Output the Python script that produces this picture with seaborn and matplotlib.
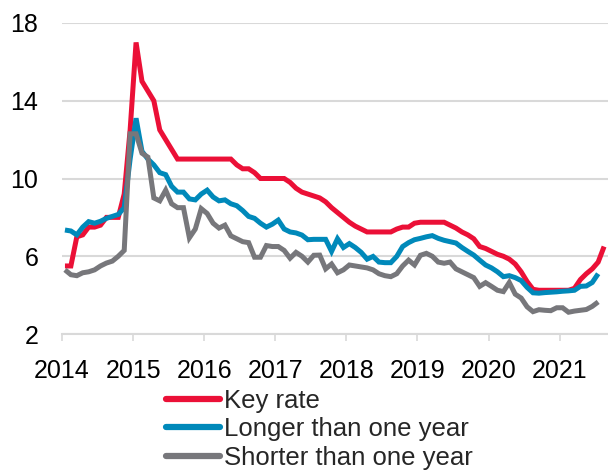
import numpy as np
import pandas as pd
import matplotlib
matplotlib.use("Agg")
import matplotlib.pyplot as plt
import seaborn as sns

# Monthly values, Jan 2014 onwards
key_rate = [5.5, 5.5, 7.0, 7.1, 7.5, 7.5, 7.6, 8.0, 8.0, 8.0, 9.2, 12.5,
            17.0, 15.0, 14.5, 14.0, 12.5, 12.0, 11.5, 11.0, 11.0, 11.0, 11.0, 11.0,
            11.0, 11.0, 11.0, 11.0, 11.0, 10.7, 10.5, 10.5, 10.3, 10.0, 10.0, 10.0,
            10.0, 10.0, 9.8, 9.5, 9.3, 9.2, 9.1, 9.0, 8.8, 8.5, 8.25, 8.0,
            7.75, 7.55, 7.4, 7.25, 7.25, 7.25, 7.25, 7.25, 7.4, 7.5, 7.5, 7.7,
            7.75, 7.75, 7.75, 7.75, 7.75, 7.6, 7.45, 7.25, 7.1, 6.9, 6.5, 6.4,
            6.25, 6.1, 6.0, 5.85, 5.6, 5.2, 4.7, 4.3, 4.25, 4.25, 4.25, 4.25,
            4.25, 4.25, 4.35, 4.8, 5.1, 5.35, 5.7, 6.5]
longer = [7.35, 7.3, 7.1, 7.5, 7.78, 7.7, 7.8, 7.95, 8.05, 8.15, 8.5, 11.0,
          13.1, 11.4, 11.0, 10.7, 10.3, 10.2, 9.6, 9.3, 9.3, 8.95, 8.9, 9.2,
          9.4, 9.05, 8.85, 8.9, 8.7, 8.6, 8.35, 8.05, 7.95, 7.7, 7.5, 7.65,
          7.86, 7.4, 7.25, 7.2, 7.09, 6.85, 6.87, 6.87, 6.87, 6.25, 6.9, 6.45,
          6.65, 6.45, 6.2, 5.85, 5.99, 5.7, 5.67, 5.67, 5.99, 6.5, 6.7, 6.85,
          6.92, 7.0, 7.06, 6.92, 6.82, 6.75, 6.68, 6.45, 6.25, 6.06, 5.8, 5.55,
          5.4, 5.2, 4.95, 5.0, 4.9, 4.75, 4.4, 4.12, 4.1, 4.13, 4.15, 4.17,
          4.2, 4.22, 4.25, 4.45, 4.47, 4.65, 5.1]
shorter = [5.3, 5.05, 5.0, 5.15, 5.2, 5.3, 5.5, 5.65, 5.75, 6.0, 6.3, 12.3,
           12.3, 11.3, 11.1, 9.0, 8.85, 9.4, 8.7, 8.5, 8.5, 6.95, 7.4, 8.45,
           8.2, 7.7, 7.45, 7.6, 7.05, 6.9, 6.75, 6.7, 5.95, 5.95, 6.55, 6.5,
           6.5, 6.3, 5.9, 6.2, 6.0, 5.7, 6.05, 6.06, 5.35, 5.6, 5.15, 5.3,
           5.55, 5.5, 5.45, 5.4, 5.3, 5.1, 5.0, 4.95, 5.1, 5.5, 5.8, 5.55,
           6.05, 6.15, 6.0, 5.7, 5.64, 5.7, 5.35, 5.2, 5.05, 4.9, 4.45, 4.64,
           4.45, 4.25, 4.18, 4.65, 4.05, 3.85, 3.4, 3.15, 3.25, 3.22, 3.2, 3.35,
           3.35, 3.12, 3.18, 3.22, 3.26, 3.42, 3.65]

series_names = ["Key rate", "Longer than one year", "Shorter than one year"]
colors = ["#EB1037", "#0089BA", "#77777B"]
year_ticks = [2014, 2015, 2016, 2017, 2018, 2019, 2020, 2021]
y_ticks = [2, 6, 10, 14, 18]

def month_pos(n):
    return 2014 + (np.arange(n) + 0.5) / 12.0

frames = []
for name, vals in zip(series_names, [key_rate, longer, shorter]):
    frames.append(pd.DataFrame({"x": month_pos(len(vals)), "value": vals, "series": name}))
df = pd.concat(frames, ignore_index=True)

sns.set_theme(style="white")
plt.rcParams["font.family"] = ["Liberation Sans", "DejaVu Sans"]

fig = plt.figure(figsize=(6.08, 4.75), dpi=100)
ax = fig.add_axes([62 / 608, 1 - 334 / 475, (608 - 62) / 608, (334 - 23) / 475])

sns.lineplot(data=df, x="x", y="value", hue="series", hue_order=series_names,
             palette=colors, linewidth=3.6, ax=ax, legend=True)
for ln in ax.get_lines():
    ln.set_solid_capstyle("butt")
    ln.set_solid_joinstyle("miter")

ax.set_xlim(2014, 2021.68)
ax.set_ylim(2, 18)
ax.set_xticks(year_ticks)
ax.set_xticklabels([str(y) for y in year_ticks])
ax.set_yticks(y_ticks)
ax.set_yticklabels([str(v) for v in y_ticks])
ax.set_xlabel("")
ax.set_ylabel("")
ax.grid(axis="y", color="#D9D9D9", linewidth=1.5)
ax.grid(axis="x", visible=False)
for s in ["left", "right", "top"]:
    ax.spines[s].set_visible(False)
ax.spines["bottom"].set_color("#D9D9D9")
ax.spines["bottom"].set_linewidth(1.5)
ax.tick_params(axis="y", length=0, pad=17, labelsize=18, labelcolor="black")
ax.tick_params(axis="x", length=5, width=1.2, color="#D9D9D9", direction="out",
               pad=13, labelsize=18, labelcolor="black", bottom=True)

handles, labels = ax.get_legend_handles_labels()
if ax.legend_:
    ax.legend_.remove()
for h in handles:
    h.set_linewidth(4.5)
    h.set_solid_capstyle("round")
fig.legend(handles, labels, loc="upper left", bbox_to_anchor=(166 / 608, 1 - 389 / 475),
           frameon=False, fontsize=18.5, handlelength=2.1, handletextpad=0.17,
           labelspacing=0.17, borderpad=0, borderaxespad=0)

fig.savefig("out.png", dpi=100)
